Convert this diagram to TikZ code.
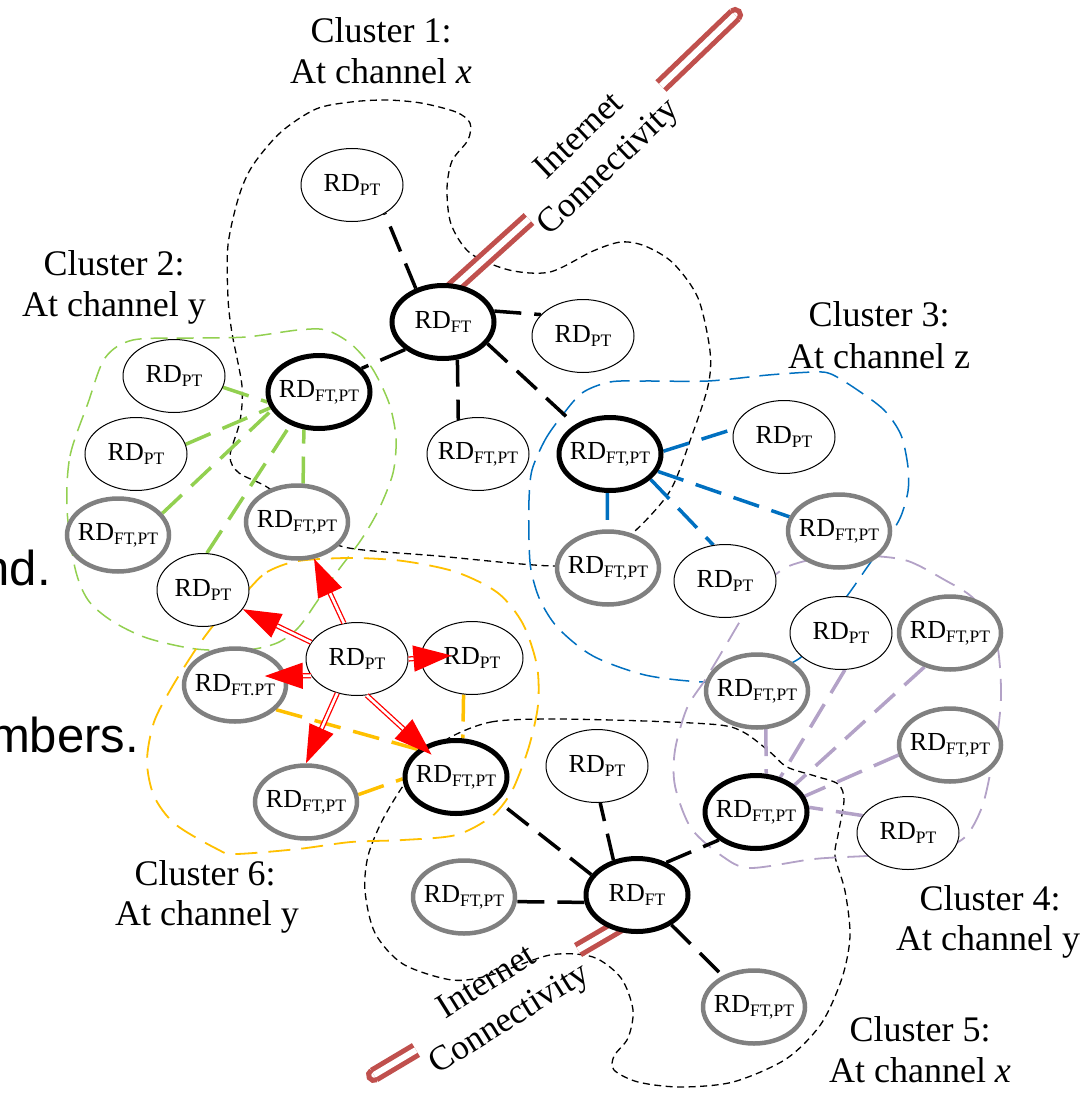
\documentclass[tikz,border=0pt]{standalone}
\usepackage{fontspec}
\setmainfont{Liberation Serif}
\setsansfont{Liberation Sans}
\usetikzlibrary{shapes.geometric, arrows.meta}
\pgfdeclarelayer{back}
\pgfsetlayers{back,main}

\definecolor{grn}{HTML}{92D050}
\definecolor{blu}{HTML}{0070C0}
\definecolor{org}{HTML}{FFC000}
\definecolor{prp}{HTML}{B3A2C7}
\definecolor{netred}{HTML}{C0504D}
\definecolor{gry}{HTML}{808080}

% device label: RD with a lowered role subscript
\newcommand{\rdlab}[1]{\makebox[0pt]{\fontsize{26}{26}\selectfont RD\raisebox{-4pt}{\fontsize{17.5}{17.5}\selectfont #1}}}

\tikzset{
  rdbase/.style={ellipse, minimum width=102pt, minimum height=73pt, inner sep=0pt, fill=white},
  ptnode/.style={rdbase, draw=black, line width=1pt},
  hubnode/.style={rdbase, draw=black, line width=5pt},
  graynode/.style={rdbase, draw=gry, line width=4.5pt},
  linkbase/.style={line width=3.5pt, dash pattern=on 27pt off 13pt},
  blink/.style={linkbase, black},
  glink/.style={linkbase, grn},
  bluelink/.style={linkbase, blu},
  olink/.style={linkbase, org},
  plink/.style={linkbase, prp},
  kbound/.style={black, line width=1.3pt, dash pattern=on 7pt off 4.5pt},
  gbound/.style={grn, line width=1.5pt, dash pattern=on 17pt off 9pt},
  bbound/.style={blu, line width=1.5pt, dash pattern=on 20pt off 10pt},
  obound/.style={org, line width=1.8pt, dash pattern=on 22pt off 11pt},
  pbound/.style={prp, line width=1.8pt, dash pattern=on 22pt off 11pt},
  netline/.style={netred, line width=5pt, double=white, double distance=6pt},
  netcap/.style={netred, line width=5pt},
  redarrow/.style={red, line width=1.3pt, double=white, double distance=2.6pt,
    -{Triangle[length=38pt,width=26pt]}},
  lbl/.style={font=\fontsize{36}{41}\selectfont, anchor=base, inner sep=0pt},
  nettext/.style={font=\fontsize{35}{43}\selectfont, align=center, inner sep=0pt},
  cuttext/.style={font=\sffamily\fontsize{49}{49}\selectfont, anchor=base east, inner sep=0pt},
}

\begin{document}
\begin{tikzpicture}[x=1pt,y=1pt]
\useasboundingbox (0,0) rectangle (1091,-1097);

% ---------- devices ----------
% cluster 1
\node[ptnode]   (n1pt)  at (352,-185) {\rdlab{PT}};
\node[hubnode]  (h1)    at (443,-322) {\rdlab{FT}};
\node[ptnode]   (n1pt2) at (583,-336) {\rdlab{PT}};
\node[ptnode]   (n1ft)  at (478,-454) {\rdlab{FT,PT}};
% cluster 2
\node[hubnode]  (h2)  at (319,-392) {\rdlab{FT,PT}};
\node[ptnode]   (n2a) at (174,-376) {\rdlab{PT}};
\node[ptnode]   (n2b) at (136,-454) {\rdlab{PT}};
\node[graynode] (n2c) at (118,-535) {\rdlab{FT,PT}};
\node[graynode] (n2d) at (297,-522) {\rdlab{FT,PT}};
\node[ptnode, minimum width=92pt] (n2e) at (203,-590) {\rdlab{PT}};
% cluster 3
\node[hubnode]  (h3)  at (610,-454) {\rdlab{FT,PT}};
\node[ptnode]   (n3a) at (784,-437) {\rdlab{PT}};
\node[graynode] (n3b) at (839,-531) {\rdlab{FT,PT}};
\node[ptnode]   (n3c) at (725,-581) {\rdlab{PT}};
\node[graynode] (n3d) at (608,-568) {\rdlab{FT,PT}};
% cluster 6
\node[ptnode]   (src) at (357,-659) {\rdlab{PT}};
\node[ptnode]   (n6a) at (472,-658) {\rdlab{PT}};
\node[graynode] (n6b) at (235,-685) {\rdlab{FT.PT}};
\node[graynode] (n6c) at (306,-802) {\rdlab{FT,PT}};
\node[hubnode]  (h6)  at (456,-777) {\rdlab{FT,PT}};
% cluster 4
\node[ptnode]   (n4a) at (841,-633) {\rdlab{PT}};
\node[graynode] (n4b) at (950,-633) {\rdlab{FT,PT}};
\node[graynode] (n4c) at (757,-691) {\rdlab{FT,PT}};
\node[graynode] (n4d) at (950,-745) {\rdlab{FT,PT}};
\node[hubnode]  (h4)  at (756,-812) {\rdlab{FT,PT}};
\node[ptnode]   (n4e) at (908,-833) {\rdlab{PT}};
% cluster 5
\node[ptnode]   (n5a) at (597,-766) {\rdlab{PT}};
\node[hubnode]  (h5)  at (637,-895) {\rdlab{FT}};
\node[graynode] (n5b) at (464,-897) {\rdlab{FT,PT}};
\node[graynode] (n5c) at (754,-1007) {\rdlab{FT,PT}};

% free ends of the internet uplinks
\coordinate (t1) at (529,-219);
\coordinate (t2) at (661,-86);
\coordinate (t3) at (735,-15);
\coordinate (b1) at (578,-950);
\coordinate (b2) at (416,-1050);
\coordinate (b3) at (374,-1075);

\begin{pgfonlayer}{back}
% ---------- cluster outlines ----------
% cluster 1 (channel x)
\draw[kbound] plot[smooth cycle] coordinates {
  (470,-123) (456,-112) (421,-103) (386,-100) (351,-102) (316,-109) (281,-132)
  (253,-165) (239,-196) (228,-245) (228,-298) (232,-333) (242,-386) (240,-421)
  (230,-456) (239,-473) (270,-489) (310,-525) (344,-547) (438,-556) (555,-566)
  (600,-556) (635,-531) (670,-491) (691,-438) (708,-386) (710,-351) (698,-298)
  (673,-263) (645,-246) (621,-242) (593,-251) (550,-272) (509,-270) (470,-253)
  (451,-224) (447,-189) (452,-161) (468,-140)};
% cluster 5 (channel x)
\draw[kbound] plot[smooth cycle] coordinates {
  (449,-738) (491,-722) (550,-719) (645,-721) (720,-725) (745,-733) (770,-752)
  (787,-767) (815,-776) (838,-784) (844,-800) (838,-835) (835,-856) (845,-891)
  (850,-936) (842,-978) (821,-1024) (786,-1059) (733,-1082) (680,-1087)
  (638,-1082) (614,-1070) (614,-1056) (628,-1038) (633,-1010) (621,-978)
  (593,-957) (550,-955) (491,-975) (452,-980) (403,-964) (375,-933) (365,-891)
  (368,-856) (382,-821) (403,-786) (425,-760)};
% cluster 2 (channel y)
\draw[gbound] plot[smooth cycle] coordinates {
  (67,-509) (70,-456) (88,-403) (105,-358) (133,-340) (193,-338) (246,-337)
  (298,-330) (326,-330) (351,-344) (372,-368) (389,-403) (396,-438) (393,-473)
  (379,-509) (361,-540) (337,-572) (316,-603) (298,-628) (277,-643) (246,-650)
  (196,-649) (147,-638) (112,-621) (88,-600) (75,-568)};
% cluster 3 (channel z)
\draw[bbound] plot[smooth cycle] coordinates {
  (532,-470) (545,-440) (561,-417) (582,-393) (610,-382) (645,-381) (708,-381)
  (768,-375) (814,-372) (831,-374) (856,-389) (884,-410) (901,-435) (908,-467)
  (908,-491) (901,-516) (890,-535) (868,-566) (847,-596) (820,-630) (800,-658)
  (750,-680) (703,-682) (645,-675) (593,-656) (558,-628) (540,-600) (531,-570)
  (529,-540) (529,-500)};
% cluster 4 (channel y)
\draw[pbound] plot[smooth cycle] coordinates {
  (830,-556) (873,-556) (908,-561) (943,-579) (975,-600) (996,-640) (1001,-687)
  (999,-722) (992,-764) (982,-807) (964,-838) (930,-852) (866,-856) (814,-859)
  (750,-868) (722,-856) (691,-828) (675,-786) (675,-750) (687,-708) (705,-680)
  (726,-645) (747,-610) (768,-582) (789,-566)};
% cluster 6 (channel y)
\draw[obound] plot[smooth cycle] coordinates {
  (249,-589) (267,-572) (298,-561) (351,-558) (403,-561) (456,-572) (498,-593)
  (523,-624) (537,-666) (538,-705) (530,-743) (519,-775) (509,-796) (491,-817)
  (456,-835) (403,-840) (351,-842) (298,-849) (235,-854) (217,-849) (175,-824)
  (154,-796) (147,-761) (154,-722) (172,-687) (196,-649) (217,-621) (239,-600)};

% ---------- internet uplinks ----------
\draw[netline, shorten <=-8pt] (h1.70) -- (t1);
\draw[netline] (t2) -- (t3);
\draw[netcap] (t3) ++(133.8:5.5) arc[start angle=133.8, delta angle=-180, radius=5.5];
\draw[netline, shorten <=-8pt] (h5.235) -- (b1);
\draw[netline] (b2) -- (b3);
\draw[netcap] (b3) ++(120.8:5.5) arc[start angle=120.8, delta angle=180, radius=5.5];

% ---------- links ----------
% cluster 1
\draw[blink] (h1.129) -- (n1pt.-41);
\draw[blink] (h1.12) -- (n1pt2.153);
\draw[blink] (h1.-69) -- (n1ft.120);
\draw[blink] (h1.216) -- (h2.29);
\draw[blink] (h1.-26) -- (h3.140);
% cluster 5
\draw[blink] (h5.124) -- (n5a.-85);
\draw[blink] (h5.156) -- (h6.-30);
\draw[blink] (h5.188) -- (n5b.-5);
\draw[blink] (h5.48) -- (h4.217);
\draw[blink] (h5.-41) -- (n5c.135);
% cluster 2
\draw[glink] (n2a.-13) -- (h2.191);
\draw[glink] (n2b.11) -- (h2.198);
\draw[glink] (n2c.26) -- (h2.201);
\draw[glink] (n2e.84) -- (h2.229);
\draw[glink] (n2d.81) -- (h2.248);
% cluster 3
\draw[bluelink] (h3.3) -- (n3a.171);
\draw[bluelink] (h3.-20) -- (n3b.164);
\draw[bluelink] (h3.-32) -- (n3c.108);
\draw[bluelink] (h3.-94) -- (n3d.91);
% cluster 6
\draw[olink] (n6b.-31) -- (h6.144);
\draw[olink] (n6a.257) -- (h6.80);
\draw[olink] (n6c.8) -- (h6.182);
% cluster 4
\draw[plink] (n4c.-77) -- (h4.75);
\draw[plink] (n4a.-84) -- (h4.55);
\draw[plink] (n4b.233) -- (h4.35);
\draw[plink] (n4d.191) -- (h4.18);
\draw[plink] (n4e.159) -- (h4.5);
\end{pgfonlayer}

% ---------- broadcast from the new device ----------
\draw[redarrow] (src.110) -- (n2d);
\draw[redarrow] (src.160) -- (n2e);
\draw[redarrow, shorten >=-22pt] (src.200) -- (n6b.10);
\draw[redarrow] (src.240) -- (n6c.north);
\draw[redarrow, shorten >=-31pt] (src.east) -- (n6a.west);
\draw[redarrow, shorten >=-12pt] (src.285) -- (h6);

% ---------- captions ----------
\node[lbl] (c1a) at (381,-43) {Cluster 1:};
\node[lbl] (c1b) at (381,-84) {At channel \textit{x}};
\node[lbl] (c2a) at (114,-275) {Cluster 2:};
\node[lbl] (c2b) at (114,-316) {At channel y};
\node[lbl] (c3a) at (879,-326) {Cluster 3:};
\node[lbl] (c3b) at (879,-368) {At channel z};
\node[lbl] (c4a) at (990,-910) {Cluster 4:};
\node[lbl] (c4b) at (988,-950) {At channel y};
\node[lbl] (c5a) at (920,-1041) {Cluster 5:};
\node[lbl] (c5b) at (920,-1082) {At channel \textit{x}};
\node[lbl] (c6a) at (205,-885) {Cluster 6:};
\node[lbl] (c6b) at (207,-925) {At channel y};

\node[nettext, rotate=43.5] (net1) at (595,-153) {Internet\\Connectivity};
\node[nettext, rotate=32] (net2) at (499,-1002) {Internet\\Connectivity};

% cut-off words at the left margin
\node[cuttext] (w1) at (51,-585) {nd.};
\node[cuttext] (w2) at (139,-752) {mbers.};
\end{tikzpicture}
\end{document}
